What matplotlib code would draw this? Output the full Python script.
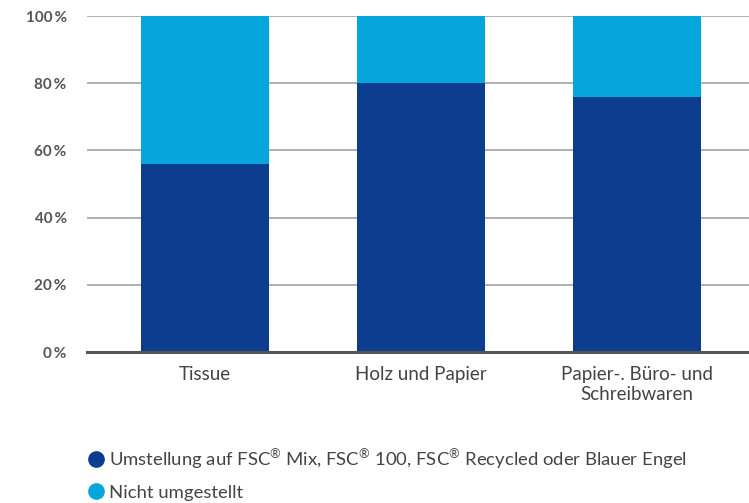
import numpy as np
import matplotlib.pyplot as plt
from matplotlib.lines import Line2D

plt.rcParams['font.family'] = ['Lato', 'DejaVu Sans']
plt.rcParams['mathtext.fontset'] = 'custom'
plt.rcParams['mathtext.rm'] = 'Lato'
plt.rcParams['mathtext.default'] = 'rm'

categories = ['Tissue', 'Holz und Papier', 'Papier-. Büro- und\nSchreibwaren']
umgestellt = [56, 80, 76]
nicht_umgestellt = [44, 20, 24]
yticks = [0, 20, 40, 60, 80, 100]
series_labels = [r'Umstellung auf FSC$^{®}$ Mix, FSC$^{®}$ 100, FSC$^{®}$ Recycled oder Blauer Engel',
                 'Nicht umgestellt']

dark = '#0d3d8f'
light = '#05a6dc'

fig = plt.figure(figsize=(7.49, 5.03), dpi=100)
ax = fig.add_axes([0.116, 0.3, 0.884, 0.668])

x = np.arange(len(categories))
w = 0.59
ax.bar(x, umgestellt, w, color=dark, zorder=3)
ax.bar(x, nicht_umgestellt, w, bottom=umgestellt, color=light, zorder=3)

ax.set_xlim(-0.546, 2.519)
ax.set_ylim(0, 100)
ax.set_yticks(yticks)
ax.set_yticklabels([f'{v}\u2009%' for v in yticks], fontweight='bold', fontsize=11, color='#555555')
ax.set_xticks(x)
ax.set_xticklabels(categories, fontsize=13.5, color='#444444', linespacing=1.2)
ax.tick_params(axis='both', length=0)
ax.tick_params(axis='y', pad=14.5)
ax.tick_params(axis='x', pad=10)

ax.grid(axis='y', color='#aaaaaa', linewidth=1.3, zorder=0)
for s in ['top', 'right', 'left']:
    ax.spines[s].set_visible(False)
ax.spines['bottom'].set_color('#555555')
ax.spines['bottom'].set_linewidth(2.2)
ax.spines['bottom'].set_zorder(4)

handles = [Line2D([], [], marker='o', linestyle='', markersize=11, color=c)
           for c in [dark, light]]
fig.legend(handles, series_labels, loc='upper left', bbox_to_anchor=(0.106, 0.125),
           frameon=False, fontsize=13.3, labelcolor='#444444', handletextpad=0.2,
           labelspacing=0.74, borderaxespad=0, handlelength=1.0)

fig.savefig('out.png', dpi=100)
